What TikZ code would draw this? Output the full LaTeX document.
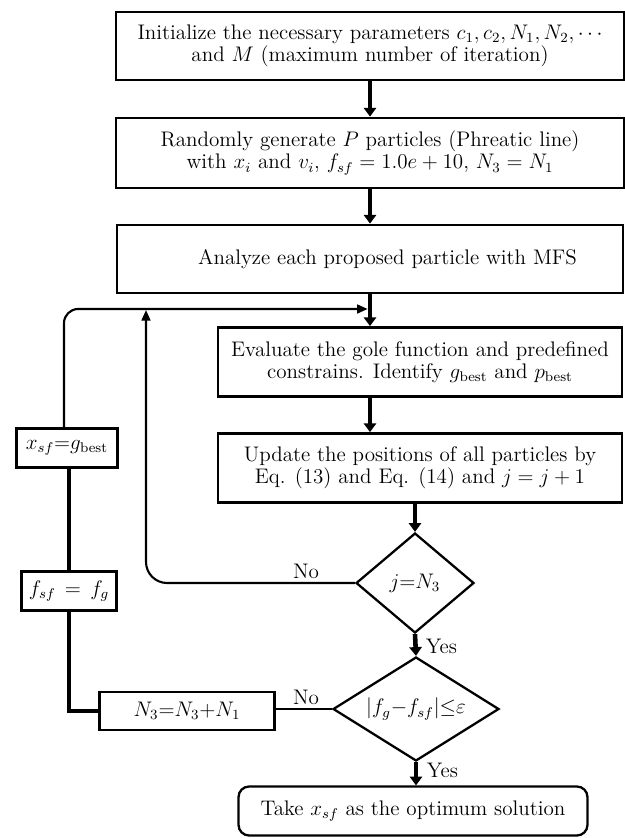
\documentclass[tikz,border=0pt]{standalone}
\usetikzlibrary{shapes.geometric,arrows.meta}
\begin{document}
\begin{tikzpicture}[x=0.02cm,y=-0.02cm,
 every node/.style={font=\fontsize{12}{12.5}\selectfont},
 box/.style={draw,line width=1.6pt,align=center,inner sep=1pt},
 cond/.style={draw,diamond,line width=1.3pt,inner sep=0pt},
 flow/.style={line width=2.6pt,-{Triangle[width=7pt,length=5pt]}},
 loop/.style={line width=1.2pt},
 lbl/.style={inner sep=1pt}]
\useasboundingbox (0,0) rectangle (625,838);
\node[box,minimum width=10.16cm,minimum height=1.36cm](init) at (370,46){Initialize the necessary parameters $c_1,c_2,N_1,N_2,\cdots$\\ and $M$ (maximum number of iteration)};
\node[box,minimum width=10.16cm,minimum height=1.40cm](rand) at (370,153){Randomly generate $P$ particles (Phreatic line)\\ with $x_i$ and $v_i$, $f_{sf}=1.0e+10$, $N_3=N_1$};
\node[box,minimum width=10.12cm,minimum height=1.36cm](mfs) at (370,259){\hspace*{0.7cm}Analyze each proposed particle with MFS};
\node[box,minimum width=8.08cm,minimum height=1.38cm](eval) at (420,362){Evaluate the gole function and predefined\\ constrains. Identify $g_{\mathrm{best}}$ and $p_{\mathrm{best}}$};
\node[box,minimum width=8.08cm,minimum height=1.38cm](upd) at (420,468){Update the positions of all particles by\\ Eq. (13) and Eq. (14) and $j=j+1$};
\node[cond,minimum width=2.36cm,minimum height=2.0cm](dec1) at (415,583){\makebox[0pt]{$j{=}N_3$}};
\node[cond,minimum width=3.32cm,minimum height=2.08cm](dec2) at (416,709){\makebox[0pt]{$|f_g{-}f_{sf}|{\le}\varepsilon$}};
\node[box,rounded corners=6pt,line width=1.3pt,minimum width=6.98cm,minimum height=0.98cm](take) at (413,811){Take $x_{sf}$ as the optimum solution};
\node[box,minimum width=3.5cm,minimum height=0.76cm](nupd) at (187,711){$N_3{=}N_3{+}N_1$};
\node[box,minimum width=1.9cm,minimum height=0.78cm](fsf) at (69,591){$f_{sf}\,=\,f_g$};
\node[box,minimum width=2.02cm,minimum height=0.78cm](xsf) at (67,448){$x_{sf}{=}g_{\mathrm{best}}$};
\coordinate (jn) at (370,309);
\foreach \p/\q in {init.south/rand.north,rand.south/mfs.north,mfs.south/mfs.south|-eval.north,mfs.south|-eval.south/mfs.south|-upd.north,dec1.north|-upd.south/dec1.north,dec1.south/dec2.north,dec2.south/dec2.south|-take.north}{\draw[flow](\p)--(\q);}
\draw[loop,-{Triangle[width=5pt,length=6pt]},rounded corners=12pt](dec1.west)--(146,583)--(146,310);
\draw[loop,-{Triangle[width=5pt,length=6pt]},rounded corners=8pt]([xshift=-0.06cm]xsf.north)--([xshift=-0.06cm]xsf.north|-jn)--([xshift=-1.3pt]jn);
\draw[line width=2pt](fsf.north|-xsf.south)--(fsf.north);
\draw[line width=1.8pt](fsf.south)--(fsf.south|-nupd.west)--(nupd.west);
\draw[loop](dec2.west)--(dec2.west-|nupd.east);
\node[lbl,anchor=south](no1) at (306,581){No};
\node[lbl,anchor=south](no2) at (306,707){No};
\node[lbl,anchor=west](yes1) at ([xshift=5pt,yshift=-0.24cm]dec1.south){Yes};
\node[lbl,anchor=west](yes2) at ([xshift=5pt,yshift=-0.16cm]dec2.south){Yes};
\end{tikzpicture}
\end{document}
